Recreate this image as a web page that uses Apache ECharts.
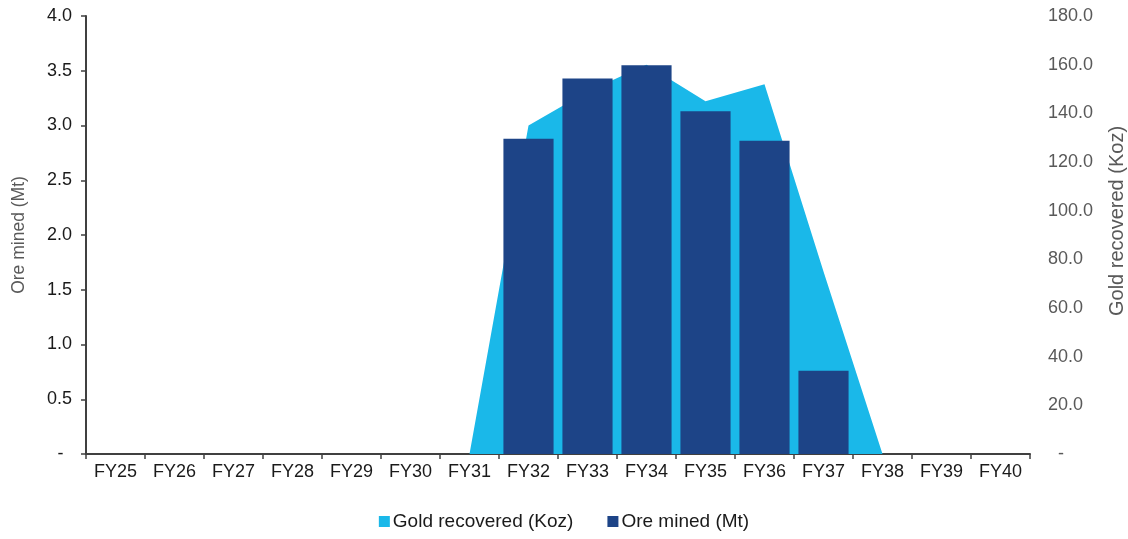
<!DOCTYPE html>
<html>
<head>
<meta charset="utf-8">
<style>
  html, body { margin: 0; padding: 0; background: #ffffff; }
  #chart { width: 1128px; height: 539px; }
</style>
<script src="https://cdn.jsdelivr.net/npm/echarts@6/dist/echarts.min.js"></script>
</head>
<body>
<div id="chart"></div>
<script>
// Mine plan by financial year
const categories = ['FY25', 'FY26', 'FY27', 'FY28', 'FY29', 'FY30', 'FY31', 'FY32',
                    'FY33', 'FY34', 'FY35', 'FY36', 'FY37', 'FY38', 'FY39', 'FY40'];

// Gold recovered, thousand ounces (right axis)
const goldRecoveredKoz = [0, 0, 0, 0, 0, 0, 0, 135, 149, 160, 145, 152, 75, 0, 0, 0];

// Ore mined, million tonnes (left axis)
const oreMinedMt = [0, 0, 0, 0, 0, 0, 0, 2.88, 3.43, 3.55, 3.13, 2.86, 0.76, 0, 0, 0];

const oreTicks = { min: 0, max: 4, interval: 0.5 };
const goldTicks = { min: 0, max: 180, interval: 20 };

const FONT = '"Liberation Sans", Arial, sans-serif';
const AXIS_COLOR = '#404040';
const TEXT_COLOR = '#1a1a1a';
const GREY_TEXT = '#595959';

const chart = echarts.init(document.getElementById('chart'), null, { renderer: 'canvas' });

chart.setOption({
  animation: false,
  textStyle: { fontFamily: FONT },
  grid: { left: 86, right: 98, top: 16, bottom: 85, containLabel: false, outerBoundsMode: 'none' },
  legend: {
    bottom: 3,
    left: 'center',
    itemWidth: 11,
    itemHeight: 11,
    itemGap: 34,
    icon: 'rect',
    textStyle: { fontFamily: FONT, fontSize: 19, color: TEXT_COLOR, padding: [0, 0, 0, -2] },
    data: ['Gold recovered (Koz)', 'Ore mined (Mt)']
  },
  xAxis: {
    type: 'category',
    data: categories,
    boundaryGap: true,
    axisLine: { show: true, lineStyle: { color: AXIS_COLOR, width: 2 } },
    axisTick: { show: true, alignWithLabel: false, length: 5, lineStyle: { color: AXIS_COLOR, width: 1.5 } },
    axisLabel: { color: TEXT_COLOR, fontFamily: FONT, fontSize: 18, margin: 9, interval: 0 },
    splitLine: { show: false }
  },
  yAxis: [
    {
      type: 'value',
      position: 'left',
      min: oreTicks.min,
      max: oreTicks.max,
      interval: oreTicks.interval,
      name: 'Ore mined (Mt)',
      nameLocation: 'middle',
      nameGap: 58,
      nameRotate: 90,
      nameTextStyle: { color: GREY_TEXT, fontFamily: FONT, fontSize: 17.5 },
      axisLine: { show: true, lineStyle: { color: AXIS_COLOR, width: 2 } },
      axisTick: { show: true, length: 5, lineStyle: { color: AXIS_COLOR, width: 1.5 } },
      axisLabel: {
        color: TEXT_COLOR, fontFamily: FONT, fontSize: 18, margin: 14,
        formatter: v => (v === 0 ? '- \u2009' : v.toFixed(1))
      },
      splitLine: { show: false }
    },
    {
      type: 'value',
      position: 'right',
      min: goldTicks.min,
      max: goldTicks.max,
      interval: goldTicks.interval,
      name: 'Gold recovered (Koz)',
      nameLocation: 'middle',
      nameGap: 77,
      nameRotate: 90,
      nameTextStyle: { color: GREY_TEXT, fontFamily: FONT, fontSize: 20, padding: [0, 0, 0, 28] },
      axisLine: { show: false },
      axisTick: { show: false },
      axisLabel: {
        color: GREY_TEXT, fontFamily: FONT, fontSize: 18, margin: 18,
        formatter: v => (v === 0 ? '  -' : v.toFixed(1))
      },
      splitLine: { show: false }
    }
  ],
  series: [
    {
      name: 'Gold recovered (Koz)',
      type: 'line',
      yAxisIndex: 1,
      data: goldRecoveredKoz,
      symbol: 'none',
      lineStyle: { width: 0 },
      itemStyle: { color: '#1ab8e9' },
      areaStyle: { color: '#1ab8e9', opacity: 1 },
      z: 1
    },
    {
      name: 'Ore mined (Mt)',
      type: 'bar',
      yAxisIndex: 0,
      data: oreMinedMt,
      barWidth: '85%',
      itemStyle: { color: '#1d4487' },
      z: 2
    }
  ]
});
</script>
</body>
</html>
